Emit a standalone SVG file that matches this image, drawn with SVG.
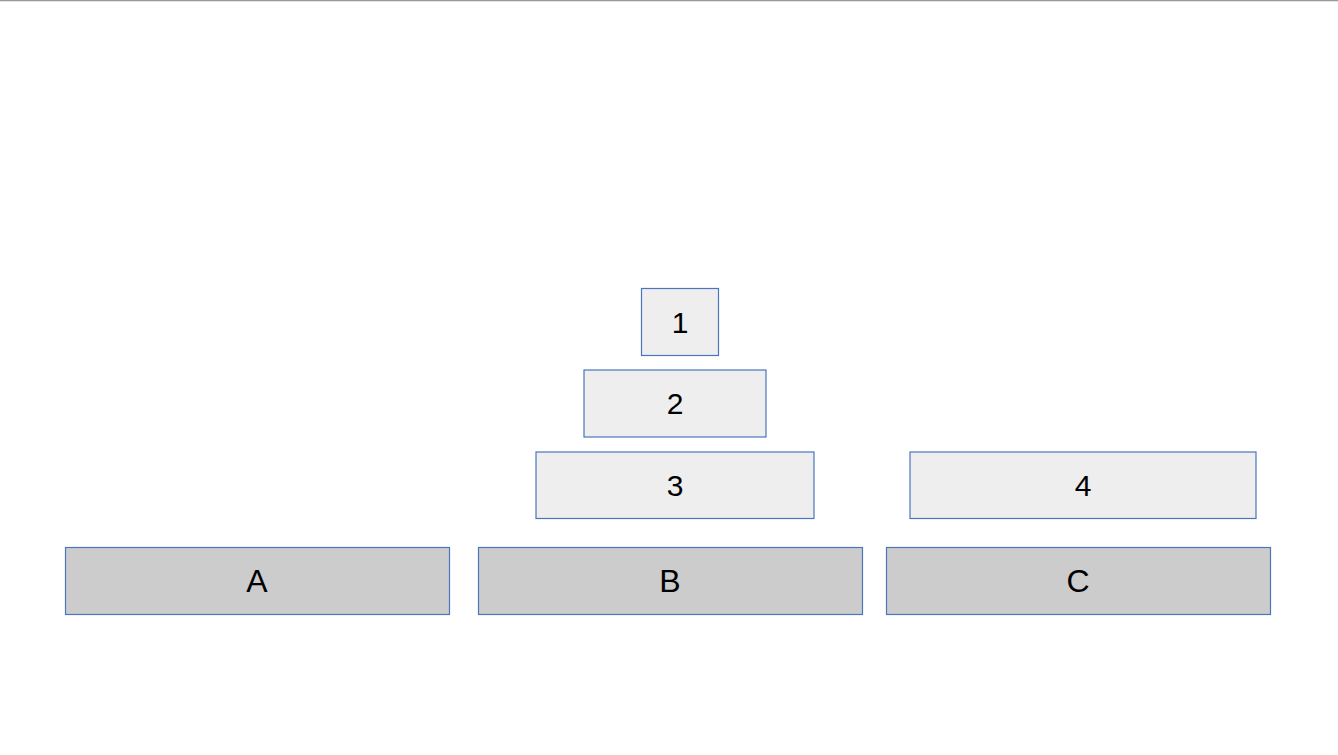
<svg xmlns="http://www.w3.org/2000/svg" width="1338" height="755" viewBox="0 0 1338 755">
<style>
.box rect{stroke:#4a76bd;stroke-width:1.2}
.lt rect{fill:#eeeeee}
.dk rect{fill:#cccccc}
text{font-family:"Liberation Sans",Arial,sans-serif;fill:#000;text-anchor:middle}
.num{font-size:30px}
.let{font-size:32px}
</style>
<rect x="0" y="0" width="1338" height="755" fill="#ffffff"/>
<line x1="0" y1="0.5" x2="1338" y2="0.5" stroke="#999999" stroke-width="1.5"/>
<g id="connectors"/>
<g id="n1" class="box lt"><rect x="641.5" y="288.5" width="77" height="67"/><text class="num" x="680" y="333">1</text></g>
<g id="n2" class="box lt"><rect x="584" y="370" width="182" height="67"/><text class="num" x="675" y="414">2</text></g>
<g id="n3" class="box lt"><rect x="536" y="452" width="278" height="66.5"/><text class="num" x="675" y="496">3</text></g>
<g id="n4" class="box lt"><rect x="910" y="452" width="346" height="66.5"/><text class="num" x="1083" y="496">4</text></g>
<g id="nA" class="box dk"><rect x="65.5" y="547.5" width="384" height="67"/><text class="let" x="257" y="592">A</text></g>
<g id="nB" class="box dk"><rect x="478.5" y="547.5" width="384" height="67"/><text class="let" x="670" y="592">B</text></g>
<g id="nC" class="box dk"><rect x="886.5" y="547.5" width="384" height="67"/><text class="let" x="1078" y="592">C</text></g>
</svg>
